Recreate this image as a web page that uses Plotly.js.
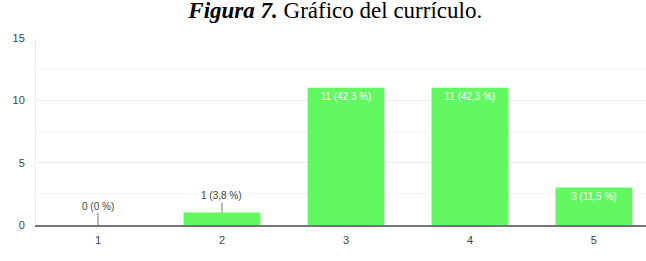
<!DOCTYPE html>
<html><head><meta charset="utf-8">
<script src="https://cdn.plot.ly/plotly-3.0.1.min.js"></script>
<style>html,body{margin:0;padding:0;background:#fff}#chart{width:646px;height:261px}</style>
</head><body><div id="chart"></div>
<script>
const categories = ['1', '2', '3', '4', '5'];
const counts = [0, 1, 11, 11, 3];
const percents = ['0', '3,8', '42,3', '42,3', '11,5'];
const titleText = '<b><i>Figura 7.</i></b> Gráfico del currículo.';

const labels = counts.map((c, i) => c + ' (' + percents[i] + ' %)');
const insideText = counts.map((c, i) => c >= 2 ? labels[i] : '');

const trace = {
  type: 'bar', x: categories, y: counts,
  width: 0.62,
  marker: {color: '#62f862', line: {width: 0}},
  text: insideText, textposition: 'inside', insidetextanchor: 'end',
  textangle: 0,
  insidetextfont: {family: 'Liberation Sans, Arial', size: 10, color: '#ffffff'},
  cliponaxis: false, hoverinfo: 'none'
};

const annotations = [];
counts.forEach((c, i) => {
  if (c < 2) {
    annotations.push({
      x: i, y: c, xref: 'x', yref: 'y', text: labels[i],
      showarrow: true, arrowhead: 0, arrowwidth: 1, arrowcolor: '#777',
      ax: 0, ay: c === 0 ? -19 : -17, standoff: 0,
      font: {family: 'Liberation Sans, Arial', size: 10, color: '#444'}
    });
  }
});

const layout = {
  width: 646, height: 261,
  margin: {l: 36, r: 0, t: 38, b: 36, pad: 0},
  paper_bgcolor: '#fff', plot_bgcolor: '#fff',
  showlegend: false,
  title: {text: titleText, x: 0.519, xanchor: 'center', xref: 'container',
          y: 1 - 9.5/261, yref: 'container', yanchor: 'middle',
          font: {family: 'Liberation Serif, Times New Roman', size: 23, color: '#000'}},
  xaxis: {type: 'category', range: [-0.5, 4.42], showgrid: false, zeroline: false,
          showline: true, linecolor: '#777', linewidth: 1.5, ticks: '',
          tickfont: {family: 'Liberation Sans, Arial', size: 11, color: '#444'},
          ticklabelstandoff: 4},
  yaxis: {range: [0, 15], dtick: 5, tick0: 0, showgrid: true, gridcolor: '#ececec',
          gridwidth: 1, zeroline: false, showline: true, linecolor: '#eeeeee', ticks: '',
          minor: {dtick: 2.5, showgrid: true, gridcolor: '#f3f3f3', gridwidth: 1},
          tickfont: {family: 'Liberation Sans, Arial', size: 11, color: '#444'},
          ticklabelstandoff: 8},
  annotations: annotations,
  bargap: 0.38
};

Plotly.newPlot('chart', [trace], layout, {staticPlot: true, displayModeBar: false});
</script></body></html>
